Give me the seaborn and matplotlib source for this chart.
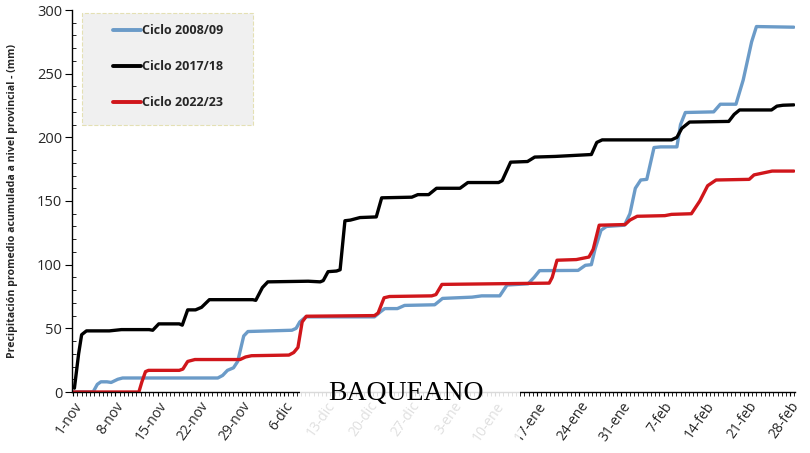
import matplotlib
matplotlib.use("Agg")
import matplotlib.pyplot as plt
from matplotlib.patches import Rectangle
from matplotlib.ticker import MultipleLocator, FixedLocator
import seaborn as sns
import pandas as pd

# ---------------- data (day index from 1-nov, accumulated mm) ----------------
days_0809 = [0, 3.3, 4.0, 4.6, 5.6, 6.3, 7.4, 8.2, 24.0, 24.8, 25.6, 26.6, 27.3, 28.3, 29.0,
             36.3, 37.0, 37.6, 38.6, 50.0, 51.0, 51.7, 53.8, 55.0, 60.0, 61.3, 66.2, 67.8,
             70.8, 72.0, 75.5, 76.5, 77.4, 83.8, 85.0, 86.0, 86.6, 87.6, 88.5, 91.5, 92.4,
             93.3, 94.2, 95.2, 96.4, 97.5, 100.2, 100.8, 101.6, 106.3, 107.4, 110.0, 111.2,
             112.6, 113.4, 119.6]
mm_0809 = [0, 0, 6, 8, 8, 7.5, 10, 11, 11, 13, 17, 19, 24, 44, 47.5,
           48.5, 50, 55, 59, 59, 63, 65.5, 65.5, 68, 68.5, 73.5, 74.5, 75.5,
           75.5, 84, 85, 90, 95.3, 95.5, 99.5, 100, 112, 127, 130, 131, 140,
           160, 166.5, 167, 192, 192.5, 192.5, 210, 219.5, 220, 226, 226, 245,
           275, 287, 286.5]

days_1718 = [0.2, 0.9, 1.4, 2.2, 6, 8, 12.6, 13.2, 14.2, 17.6, 18.1, 19.0, 20.3, 21.3, 22.6,
             29.8, 30.3, 31.4, 32.3, 39, 41, 41.5, 42.3, 43.7, 44.3, 45.1, 46.0, 47.6, 50.3,
             51.2, 56.2, 57.2, 59.0, 60.3, 64.2, 65.5, 70.6, 71.2, 72.6, 75.4, 76.6, 80.0,
             86.0, 86.9, 87.8, 99.3, 100.2, 101.0, 102.3, 108.8, 109.7, 110.6, 115.9, 116.8,
             117.8, 119.6]
mm_1718 = [3, 30, 45, 48, 48, 49, 49, 48.5, 53.5, 53.5, 52.5, 64.5, 64.5, 66.5, 72.5,
           72.5, 72, 82, 86.5, 87, 86.5, 87.5, 94.5, 95, 96, 134.5, 135, 137, 137.5,
           152.5, 153, 155, 155, 160, 160, 164.5, 164.5, 166, 180.5, 181, 184.5, 185,
           186.5, 196, 198, 198, 200, 207, 212, 212.5, 218, 221.5, 221.5, 224.5,
           225.2, 225.5]

days_2223 = [0, 10.9, 11.4, 12.0, 12.5, 17.6, 18.2, 19.0, 20.2, 27.7, 28.6, 29.6, 35.8, 36.6,
             37.3, 38.0, 38.7, 50.0, 50.6, 51.6, 52.5, 59.5, 60.2, 61.2, 79.0, 79.5, 80.3,
             83.5, 85.6, 86.3, 87.3, 91.6, 92.4, 93.6, 98.2, 99.3, 102.6, 104.0, 105.3,
             106.7, 112.2, 113.0, 114.5, 116.0, 119.6]
mm_2223 = [0, 0, 8, 16, 17, 17, 18, 24, 25.5, 25.5, 27.5, 28.5, 29, 31,
           35, 55, 59.5, 60, 62, 74, 75, 75.5, 76.5, 84.5, 85.5, 90, 103.5,
           104, 106, 112, 131, 131.5, 135, 138, 138.5, 139.5, 140, 150, 162,
           166.5, 167, 170.5, 172, 173.5, 173.5]

series_names = ["Ciclo 2008/09", "Ciclo 2017/18", "Ciclo 2022/23"]
series_colors = ["#6b9bc8", "#000000", "#d0161b"]

tick_days = [0, 7, 14, 21, 28, 35, 42, 49, 56, 63, 70, 77, 84, 91, 98, 105, 112, 119]
tick_labels = ["1-nov", "8-nov", "15-nov", "22-nov", "29-nov", "6-dic", "13-dic", "20-dic",
               "27-dic", "3-ene", "10-ene", "17-ene", "24-ene", "31-ene", "7-feb", "14-feb",
               "21-feb", "28-feb"]

y_ticks = [0, 50, 100, 150, 200, 250, 300]

# ---------------- figure ----------------
sns.set_theme(style="white")
plt.rcParams["font.family"] = ["Open Sans", "DejaVu Sans"]

W, H = 810, 453
fig = plt.figure(figsize=(W / 100, H / 100), dpi=100)
ax = fig.add_axes([72 / W, 1 - 392 / H, (795 - 72) / W, (392 - 10) / H])

for d, v, name, col in zip([days_0809, days_1718, days_2223],
                           [mm_0809, mm_1718, mm_2223],
                           series_names, series_colors):
    df = pd.DataFrame({"dia": d, "mm": v})
    sns.lineplot(data=df, x="dia", y="mm", ax=ax, color=col, lw=2.4, label=name,
                 sort=False, estimator=None)
for ln in ax.get_lines():
    ln.set_solid_joinstyle("round")
    ln.set_solid_capstyle("round")

ax.set_xlim(-0.2, 119.8)
ax.set_ylim(0, 300)
ax.set_xlabel("")
ax.set_ylabel("Precipitación promedio acumulada a nivel provincial - (mm)",
              fontsize=7.6, fontweight="bold")
ax.yaxis.set_label_coords(18 / W, 1 - 201 / H, transform=fig.transFigure)

ax.xaxis.set_major_locator(FixedLocator(tick_days))
ax.set_xticklabels(tick_labels, rotation=55, ha="right", rotation_mode="anchor",
                   fontsize=10)
ax.xaxis.set_minor_locator(MultipleLocator(0.7))
ax.set_yticks(y_ticks)
ax.set_yticklabels([str(t) for t in y_ticks], fontsize=10.5)
ax.yaxis.set_minor_locator(MultipleLocator(10))

for s in ["top", "right"]:
    ax.spines[s].set_visible(False)
for s in ["left", "bottom"]:
    ax.spines[s].set_color("black")
    ax.spines[s].set_linewidth(1.0)

ax.tick_params(axis="x", which="major", direction="out", length=3, width=0.8,
               color="black", pad=2, bottom=True)
ax.tick_params(axis="x", which="minor", direction="out", length=3, width=0.6,
               color="black", bottom=True)
ax.tick_params(axis="y", which="major", direction="out", length=5, width=0.8,
               color="black", pad=2, left=True)
ax.tick_params(axis="y", which="minor", direction="in", length=3, width=0.6,
               color="black", left=True)

# legend box
ax.add_patch(Rectangle((82 / W, 1 - 125 / H), 171 / W, 112 / H, transform=fig.transFigure,
                       facecolor="#f0f0f0", edgecolor="#e4e0b4", lw=0.8, ls="--",
                       clip_on=False, zorder=4))
leg = ax.legend(loc="upper left", bbox_to_anchor=(113 / W, 1 - 24 / H),
                bbox_transform=fig.transFigure, frameon=False, borderpad=0,
                borderaxespad=0, handlelength=2.2, handletextpad=0.1,
                labelspacing=1.85, prop={"size": 9, "weight": "bold"})
leg.set_zorder(5)
for lh in leg.get_lines():
    lh.set_linewidth(2.8)

# watermark
fig.patches.append(Rectangle((300 / W, 0), 220 / W, 81 / H, transform=fig.transFigure,
                             facecolor="white", edgecolor="none", alpha=0.86, zorder=2))
fig.text(406 / W, 1 - 393 / H, "BAQUEANO", ha="center", va="center",
         family=["Liberation Serif", "DejaVu Serif"],
         fontsize=20, color="black", zorder=3)

fig.savefig("out.png", dpi=100)
